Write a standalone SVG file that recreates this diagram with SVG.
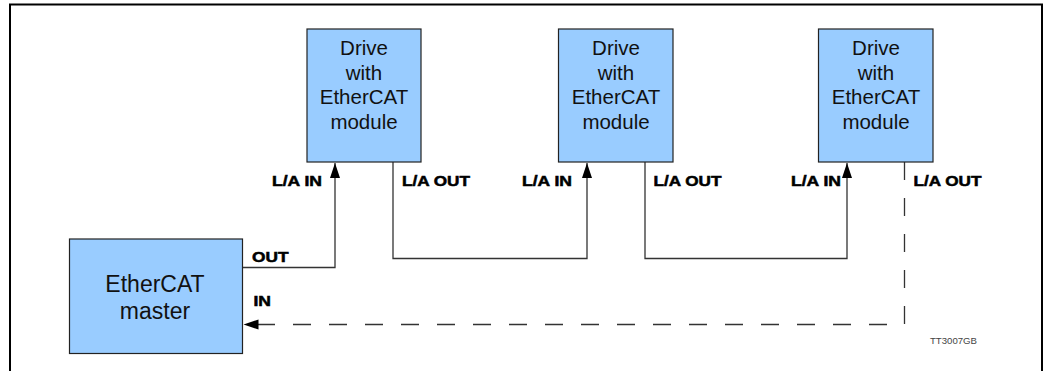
<svg xmlns="http://www.w3.org/2000/svg" width="1044" height="371" viewBox="0 0 1044 371">
<style>
.box{fill:#99CCFF;stroke:#222;stroke-width:1.2}
.nt{font-family:"Liberation Sans",Arial,sans-serif;font-size:20.5px;fill:#111;text-anchor:middle}
.mt{font-family:"Liberation Sans",Arial,sans-serif;font-size:23px;fill:#111;text-anchor:middle}
.lb{font-family:"Liberation Sans",Arial,sans-serif;font-size:14px;font-weight:bold;fill:#000;stroke:#000;stroke-width:0.5}
.wire{fill:none;stroke:#333;stroke-width:1.3}
.dash{stroke-dasharray:18 18}
.ref{font-family:"Liberation Sans",Arial,sans-serif;font-size:9.5px;fill:#444}
</style>
<defs>
<marker id="ah" markerUnits="userSpaceOnUse" markerWidth="16" markerHeight="12" refX="15" refY="5" orient="auto">
<path d="M0,0 L15,5 L0,10 Z" fill="#000"/>
</marker>
</defs>
<rect x="0" y="0" width="1044" height="371" fill="#fff"/>
<rect x="10" y="4.5" width="1032" height="400" fill="none" stroke="#000" stroke-width="2"/>
<g id="connectors">
<path class="wire" d="M242.5,267.5 H335 V163" marker-end="url(#ah)"/>
<path class="wire" d="M393,162 V258.5 H587 V163" marker-end="url(#ah)"/>
<path class="wire" d="M645,162 V258.5 H847 V163" marker-end="url(#ah)"/>
<path class="wire dash" d="M904.5,162 V324.5 H243.5" marker-end="url(#ah)"/>
</g>
<g id="drive1">
<rect class="box" x="307" y="29" width="114" height="133"/>
<text class="nt" x="364" y="55">Drive</text>
<text class="nt" x="364" y="79.5">with</text>
<text class="nt" x="364" y="104">EtherCAT</text>
<text class="nt" x="364" y="128.5">module</text>
</g>
<g id="drive2">
<rect class="box" x="558.5" y="29" width="114.5" height="133"/>
<text class="nt" x="616" y="55">Drive</text>
<text class="nt" x="616" y="79.5">with</text>
<text class="nt" x="616" y="104">EtherCAT</text>
<text class="nt" x="616" y="128.5">module</text>
</g>
<g id="drive3">
<rect class="box" x="818.5" y="29" width="114.5" height="133"/>
<text class="nt" x="876" y="55">Drive</text>
<text class="nt" x="876" y="79.5">with</text>
<text class="nt" x="876" y="104">EtherCAT</text>
<text class="nt" x="876" y="128.5">module</text>
</g>
<g id="master">
<rect class="box" x="69.5" y="239" width="173" height="114.5"/>
<text class="mt" x="155" y="291.5">EtherCAT</text>
<text class="mt" x="155" y="318.5">master</text>
</g>
<g id="labels">
<text class="lb" x="272" y="186" textLength="50" lengthAdjust="spacingAndGlyphs">L/A IN</text>
<text class="lb" x="402" y="186" textLength="68" lengthAdjust="spacingAndGlyphs">L/A OUT</text>
<text class="lb" x="522" y="186" textLength="50" lengthAdjust="spacingAndGlyphs">L/A IN</text>
<text class="lb" x="653.5" y="186" textLength="68" lengthAdjust="spacingAndGlyphs">L/A OUT</text>
<text class="lb" x="791" y="186" textLength="50" lengthAdjust="spacingAndGlyphs">L/A IN</text>
<text class="lb" x="913.5" y="186" textLength="68" lengthAdjust="spacingAndGlyphs">L/A OUT</text>
<text class="lb" x="252" y="261.5" textLength="36.5" lengthAdjust="spacingAndGlyphs">OUT</text>
<text class="lb" x="253.5" y="306" textLength="17.5" lengthAdjust="spacingAndGlyphs">IN</text>
<text class="ref" x="930" y="343.5" textLength="47" lengthAdjust="spacingAndGlyphs">TT3007GB</text>
</g>
</svg>
